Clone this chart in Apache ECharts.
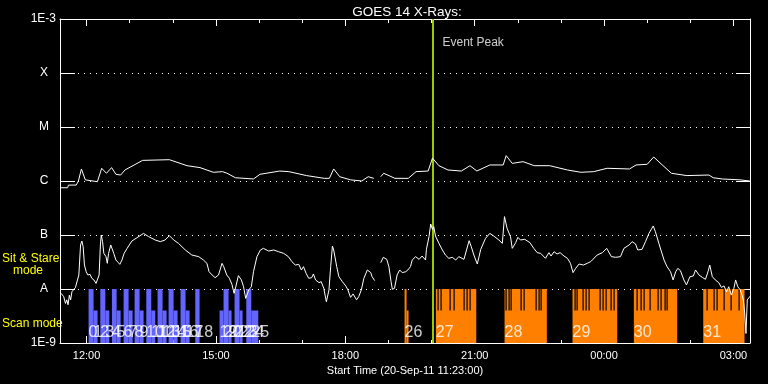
<!DOCTYPE html>
<html><head><meta charset="utf-8">
<script src="https://cdn.jsdelivr.net/npm/echarts@6/dist/echarts.min.js"></script>
<style>html,body{margin:0;padding:0;background:#000}#c{width:768px;height:384px}</style>
</head><body><div id="c"></div>
<script>
// ---- time axis (hours since 00:00 on 20-Sep-11) ----
const startHour = 11 + 23 / 60;
const endHour = startHour + 16;
const majorTicks = [12, 15, 18, 21, 24, 27];
const xTickLabels = ['12:00', '15:00', '18:00', '21:00', '00:00', '03:00'];
const hourTicks = [12,13,14,15,16,17,18,19,20,21,22,23,24,25,26,27];
const yTickLabels = ['1E-9', 'A', 'B', 'C', 'M', 'X', '1E-3'];
const eventPeak = 20.02;
const hiLevel = 1e-8;
const loLevel = 4e-9;
const floorLevel = 1e-9;
const labelLevel = 1.55e-9;

// GOES 1-8 A channel (W/m^2)
const longChannel = [[11.39,7.5e-7],[11.56,7.5e-7],[11.58,8.4e-7],[11.76,8.4e-7],[11.81,1.0e-6],[11.88,1.67e-6],[11.97,1.05e-6],[12.25,0.97e-6],[12.35,1.72e-6],[12.46,1.39e-6],[12.58,1.77e-6],[12.68,1.33e-6],[12.79,1.29e-6],[12.89,1.60e-6],[13.30,2.41e-6],[13.92,2.48e-6],[14.33,1.92e-6],[14.63,1.77e-6],[14.94,1.45e-6],[15.15,1.49e-6],[15.25,1.40e-6],[15.45,1.15e-6],[15.87,1.09e-6],[16.02,1.33e-6],[16.48,1.53e-6],[16.69,1.49e-6],[17.10,1.26e-6],[17.51,1.12e-6],[17.63,1.12e-6],[17.73,1.67e-6],[17.87,1.20e-6],[18.12,1.05e-6],[18.38,1.0e-6],[18.53,1.20e-6],[18.66,1.12e-6],[18.74,null],[18.82,1.20e-6],[18.89,1.39e-6],[19.15,1.12e-6],[19.46,1.12e-6],[19.64,1.49e-6],[19.92,1.53e-6],[20.02,2.65e-6],[20.17,1.92e-6],[20.38,1.60e-6],[20.69,1.53e-6],[20.89,1.92e-6],[21.05,1.53e-6],[21.35,1.98e-6],[21.66,1.98e-6],[21.73,2.95e-6],[21.87,2.12e-6],[22.12,2.28e-6],[22.38,1.92e-6],[22.74,1.92e-6],[23.15,1.60e-6],[23.46,1.45e-6],[23.76,1.49e-6],[24.07,1.72e-6],[24.59,1.67e-6],[24.74,1.98e-6],[25.00,2.04e-6],[25.15,2.78e-6],[25.56,1.39e-6],[25.92,1.26e-6],[26.43,1.29e-6],[26.53,1.15e-6],[26.74,1.09e-6],[27.15,1.05e-6],[27.38,1.0e-6]];

// GOES 0.5-4 A channel (W/m^2)
const shortChannel = [[11.41,0.83e-8],[11.47,0.72e-8],[11.51,0.54e-8],[11.54,0.63e-8],[11.57,0.51e-8],[11.60,0.77e-8],[11.63,0.63e-8],[11.66,0.89e-8],[11.69,0.96e-8],[11.74,1.06e-8],[11.78,1.10e-8],[11.82,1.82e-8],[11.86,6.53e-8],[11.89,7.74e-8],[11.92,6.08e-8],[11.95,2.78e-8],[11.99,2.09e-8],[12.03,1.82e-8],[12.08,1.87e-8],[12.12,1.58e-8],[12.17,1.47e-8],[12.22,1.27e-8],[12.26,1.22e-8],[12.29,1.82e-8],[12.32,6.53e-8],[12.34,1.0e-7],[12.37,7.53e-8],[12.40,4.57e-8],[12.45,3.97e-8],[12.48,2.99e-8],[12.51,4.57e-8],[12.56,6.53e-8],[12.59,7.01e-8],[12.63,4.57e-8],[12.68,3.44e-8],[12.73,3.12e-8],[12.77,2.86e-8],[12.82,3.44e-8],[12.87,4.57e-8],[12.94,5.66e-8],[13.05,7.74e-8],[13.17,8.93e-8],[13.32,1.07e-7],[13.44,9.31e-8],[13.59,8.08e-8],[13.71,7.53e-8],[13.82,8.08e-8],[13.92,9.72e-8],[14.02,8.08e-8],[14.13,7.01e-8],[14.29,5.27e-8],[14.44,4.26e-8],[14.60,3.97e-8],[14.71,3.44e-8],[14.79,2.99e-8],[14.84,2.09e-8],[14.91,1.82e-8],[14.98,1.62e-8],[15.06,1.82e-8],[15.14,2.99e-8],[15.18,2.59e-8],[15.25,1.82e-8],[15.31,1.58e-8],[15.37,1.22e-8],[15.42,0.83e-8],[15.46,1.10e-8],[15.52,1.77e-8],[15.59,1.47e-8],[15.64,1.10e-8],[15.69,0.67e-8],[15.76,0.96e-8],[15.82,1.10e-8],[15.87,2.09e-8],[15.95,3.97e-8],[16.03,5.27e-8],[16.10,5.66e-8],[16.22,5.05e-8],[16.34,5.27e-8],[16.45,4.91e-8],[16.57,4.57e-8],[16.68,3.97e-8],[16.76,3.21e-8],[16.84,2.78e-8],[16.92,2.86e-8],[16.98,2.25e-8],[17.03,2.59e-8],[17.09,1.95e-8],[17.15,1.58e-8],[17.22,1.62e-8],[17.26,1.90e-8],[17.31,1.47e-8],[17.39,1.31e-8],[17.44,1.37e-8],[17.50,1.03e-8],[17.56,0.58e-8],[17.62,0.96e-8],[17.66,2.59e-8],[17.70,6.26e-8],[17.73,5.27e-8],[17.80,2.59e-8],[17.85,1.69e-8],[17.93,1.37e-8],[18.01,1.14e-8],[18.06,0.96e-8],[18.12,0.70e-8],[18.18,0.81e-8],[18.26,0.63e-8],[18.31,0.72e-8],[18.37,0.96e-8],[18.43,1.58e-8],[18.51,2.25e-8],[18.59,2.01e-8],[18.62,1.69e-8],[18.68,1.43e-8],[18.75,null],[18.82,3.07e-8],[18.88,3.86e-8],[18.96,3.54e-8],[19.01,2.59e-8],[19.06,1.37e-8],[19.09,0.99e-8],[19.14,1.03e-8],[19.20,1.82e-8],[19.26,2.25e-8],[19.32,2.01e-8],[19.40,2.09e-8],[19.45,2.25e-8],[19.51,2.59e-8],[19.55,3.44e-8],[19.63,3.97e-8],[19.71,3.54e-8],[19.78,4.08e-8],[19.86,3.44e-8],[19.88,5.43e-8],[19.94,9.31e-8],[19.98,1.60e-7],[20.02,1.27e-7],[20.05,1.43e-7],[20.09,9.58e-8],[20.17,7.01e-8],[20.25,5.27e-8],[20.32,4.26e-8],[20.40,3.70e-8],[20.48,3.86e-8],[20.56,3.44e-8],[20.63,3.97e-8],[20.75,3.54e-8],[20.81,5.27e-8],[20.87,7.85e-8],[20.92,6.08e-8],[20.98,4.26e-8],[21.06,2.90e-8],[21.14,5.43e-8],[21.25,8.67e-8],[21.35,1.07e-7],[21.44,9.58e-8],[21.56,8.08e-8],[21.64,7.01e-8],[21.69,2.19e-7],[21.75,1.33e-7],[21.83,9.31e-8],[21.87,5.66e-8],[21.95,7.21e-8],[22.00,9.05e-8],[22.06,8.08e-8],[22.16,8.32e-8],[22.28,7.21e-8],[22.37,5.66e-8],[22.45,4.71e-8],[22.53,4.57e-8],[22.64,3.70e-8],[22.72,4.71e-8],[22.77,4.08e-8],[22.84,4.91e-8],[22.91,4.45e-8],[22.98,4.71e-8],[23.07,4.08e-8],[23.15,3.70e-8],[23.22,2.99e-8],[23.28,2.01e-8],[23.34,2.41e-8],[23.42,2.90e-8],[23.52,2.78e-8],[23.61,2.99e-8],[23.69,3.21e-8],[23.84,4.26e-8],[23.96,4.71e-8],[24.06,5.66e-8],[24.17,3.97e-8],[24.27,3.86e-8],[24.38,3.97e-8],[24.46,5.66e-8],[24.58,6.53e-8],[24.65,7.53e-8],[24.73,6.81e-8],[24.78,5.27e-8],[24.88,5.43e-8],[24.96,7.53e-8],[25.04,1.07e-7],[25.14,1.47e-7],[25.19,1.15e-7],[25.27,7.01e-8],[25.39,3.44e-8],[25.46,2.59e-8],[25.54,2.09e-8],[25.60,1.47e-8],[25.66,2.09e-8],[25.71,2.41e-8],[25.77,2.19e-8],[25.85,1.47e-8],[25.91,1.19e-8],[25.99,1.69e-8],[26.07,1.74e-8],[26.12,2.25e-8],[26.20,1.82e-8],[26.28,1.64e-8],[26.35,1.51e-8],[26.41,2.09e-8],[26.45,2.78e-8],[26.51,1.69e-8],[26.58,1.47e-8],[26.66,1.31e-8],[26.72,1.07e-8],[26.78,1.14e-8],[26.84,0.89e-8],[26.89,1.10e-8],[26.95,0.77e-8],[27.01,1.03e-8],[27.05,1.47e-8],[27.10,1.10e-8],[27.16,0.96e-8],[27.23,0.63e-8],[27.26,0.36e-8],[27.29,0.15e-8],[27.32,0.63e-8],[27.39,0.74e-8]];

// Scan-mode observations: [start, end, tall(1)/short(0), number]
const scanObs = [[12.046,12.162,1,'0'],[12.162,12.255,0,'1'],[12.318,12.434,1,'2'],[12.434,12.527,0,'3'],[12.587,12.696,1,'4'],[12.696,12.789,0,'5'],[12.858,12.974,1,'6'],[12.974,13.067,0,'7'],[13.113,13.229,1,'8'],[13.229,13.322,0,'9'],[13.384,13.500,1,'10'],[13.500,13.593,0,'11'],[13.646,13.762,1,'12'],[13.762,13.855,0,'13'],[13.901,14.017,1,'14'],[14.017,14.110,0,'15'],[14.179,14.295,1,'16'],[14.295,14.388,0,'17'],[14.520,14.620,1,'18'],[15.083,15.176,0,'19'],[15.176,15.292,1,'20'],[15.292,15.362,0,'21'],[15.431,15.547,1,'22'],[15.547,15.617,0,'23'],[15.703,15.819,1,'24'],[15.819,15.981,0,'25']];

// Sit & stare observations: [start, end, number]
const stareObs = [[19.373,19.420,'26'],[20.099,21.036,'27'],[21.692,22.673,'28'],[23.268,24.305,'29'],[24.690,25.696,'30'],[26.299,27.256,'31']];
const stareShort = [[19.420,19.466]];
const stareGaps = [20.138,20.215,20.433,20.509,20.757,20.818,20.880,21.722,21.785,21.847,22.070,22.133,22.427,22.480,22.543,23.315,23.377,23.516,23.577,23.647,23.902,23.972,24.033,24.166,24.226,24.768,24.845,24.922,25.061,25.247,25.325,25.402,25.464,26.392,26.545,26.623,26.778,26.932,27.125];

const FONT = 'Liberation Sans';
const chart = echarts.init(document.getElementById('c'), null, {renderer: 'canvas'});

function rectRender(color) {
  return function (params, api) {
    const p0 = api.coord([api.value(0), api.value(2)]);
    const p1 = api.coord([api.value(1), floorLevel]);
    return {type: 'rect', shape: {x: p0[0], y: p0[1], width: p1[0] - p0[0], height: p1[1] - p0[1]}, style: {fill: color}};
  };
}
function gapRender(params, api) {
  const p0 = api.coord([api.value(0), hiLevel]);
  const p1 = api.coord([api.value(0), loLevel]);
  return {type: 'rect', shape: {x: Math.round(p0[0]) - 0.5, y: p0[1], width: 1.2, height: p1[1] - p0[1]}, style: {fill: '#000'}};
}
const fixNull = arr => arr.map(p => [p[0], p[1] == null ? '-' : p[1]]);

const axisBase = {type: 'value', min: startHour, max: endHour, splitLine: {show: false}};
const option = {
  backgroundColor: '#000',
  animation: false,
  title: {text: 'GOES 14 X-Rays:', left: 402, top: 0, textAlign: 'center',
    textStyle: {color: '#fff', fontSize: 13.5, fontWeight: 'normal', fontFamily: FONT}},
  grid: {left: 60, right: 18, top: 19, bottom: 41, containLabel: false},
  xAxis: [
    Object.assign({}, axisBase, {position: 'bottom',
      axisLine: {show: true, lineStyle: {color: '#fff', width: 1}},
      axisTick: {show: true, inside: true, length: 7, customValues: majorTicks, lineStyle: {color: '#fff'}},
      axisLabel: {show: true, customValues: majorTicks, color: '#fff', fontSize: 11, fontFamily: FONT, margin: 7,
        formatter: v => xTickLabels[majorTicks.indexOf(Math.round(v))]},
      name: 'Start Time (20-Sep-11 11:23:00)', nameLocation: 'middle', nameGap: 22,
      nameTextStyle: {color: '#fff', fontSize: 11, fontFamily: FONT}}),
    Object.assign({}, axisBase, {position: 'bottom', axisLine: {show: false},
      axisTick: {show: true, inside: true, length: 3, customValues: hourTicks, lineStyle: {color: '#fff'}},
      axisLabel: {show: false}}),
    Object.assign({}, axisBase, {position: 'top',
      axisLine: {show: true, lineStyle: {color: '#fff', width: 1}},
      axisTick: {show: true, inside: true, length: 7, customValues: majorTicks, lineStyle: {color: '#fff'}},
      axisLabel: {show: false}}),
    Object.assign({}, axisBase, {position: 'top', axisLine: {show: false},
      axisTick: {show: true, inside: true, length: 4, customValues: hourTicks, lineStyle: {color: '#fff'}},
      axisLabel: {show: false}})
  ],
  yAxis: [
    {type: 'log', logBase: 10, min: 1e-9, max: 1e-3, interval: 1, position: 'left',
      axisLine: {show: true, lineStyle: {color: '#fff', width: 1}},
      axisTick: {show: true, inside: true, length: 15, lineStyle: {color: '#fff'}},
      axisLabel: {show: true, margin: 4, color: '#fff', fontSize: 12, fontFamily: FONT,
        formatter: v => {
          const i = Math.round(Math.log10(v)) + 9;
          const t = yTickLabels[i];
          return (i === 0 || i === 6) ? '{e|' + t + '}' : '{l|' + t + '}';
        },
        rich: {e: {color: '#fff', fontSize: 12, fontFamily: FONT}, l: {color: '#fff', fontSize: 12, fontFamily: FONT, width: 24, align: 'center'}}},
      splitLine: {show: true, lineStyle: {color: '#fff', width: 1, type: [1, 5]}}},
    {type: 'log', logBase: 10, min: 1e-9, max: 1e-3, interval: 1, position: 'right',
      axisLine: {show: true, lineStyle: {color: '#fff', width: 1}},
      axisTick: {show: true, inside: true, length: 14, lineStyle: {color: '#fff'}},
      axisLabel: {show: false}, splitLine: {show: false}}
  ],
  graphic: [
    {type: 'text', left: 2, top: 253, style: {text: 'Sit & Stare', fill: '#ffff00', font: '12px "Liberation Sans"'}},
    {type: 'text', left: 13, top: 265, style: {text: 'mode', fill: '#ffff00', font: '12px "Liberation Sans"'}},
    {type: 'text', left: 2, top: 318, style: {text: 'Scan mode', fill: '#ffff00', font: '12px "Liberation Sans"'}}
  ],
  series: [
    {type: 'custom', name: 'scan', z: 2, renderItem: rectRender('#6464ff'), encode: {x: [0, 1], y: 2},
      data: scanObs.map(o => [o[0], o[1], o[2] ? hiLevel : loLevel])},
    {type: 'custom', name: 'stare', z: 2, renderItem: rectRender('#ff8000'), encode: {x: [0, 1], y: 2},
      data: stareObs.map(o => [o[0], o[1], hiLevel]).concat(stareShort.map(o => [o[0], o[1], loLevel]))},
    {type: 'custom', name: 'gaps', z: 3, renderItem: gapRender, encode: {x: 0, y: 1},
      data: stareGaps.map(g => [g, hiLevel])},
    {type: 'line', name: '1-8 A', z: 5, data: fixNull(longChannel), showSymbol: false, connectNulls: false,
      lineStyle: {color: '#fff', width: 1}, itemStyle: {color: '#fff'}},
    {type: 'line', name: '0.5-4 A', z: 5, data: fixNull(shortChannel), showSymbol: false, connectNulls: false,
      lineStyle: {color: '#fff', width: 1}, itemStyle: {color: '#fff'}},
    {type: 'scatter', name: 'numbers', z: 6, symbolSize: 0,
      data: scanObs.map(o => [o[0], labelLevel, o[3]]).concat(stareObs.map(o => [o[0], labelLevel, o[2]])),
      label: {show: true, position: 'right', distance: 0, color: '#fff', fontSize: 16, fontFamily: FONT,
        formatter: p => p.value[2]}},
    {type: 'scatter', name: 'event', z: 7, symbolSize: 0, data: [[eventPeak, 3.6e-4]],
      label: {show: true, position: 'right', distance: 10, color: '#fff', fontSize: 12, fontFamily: FONT,
        formatter: 'Event Peak'},
      markLine: {silent: true, symbol: 'none', label: {show: false},
        lineStyle: {color: '#99cc00', width: 2, type: 'solid'}, data: [{xAxis: eventPeak}]}}
  ]
};
chart.setOption(option);
</script></body></html>
